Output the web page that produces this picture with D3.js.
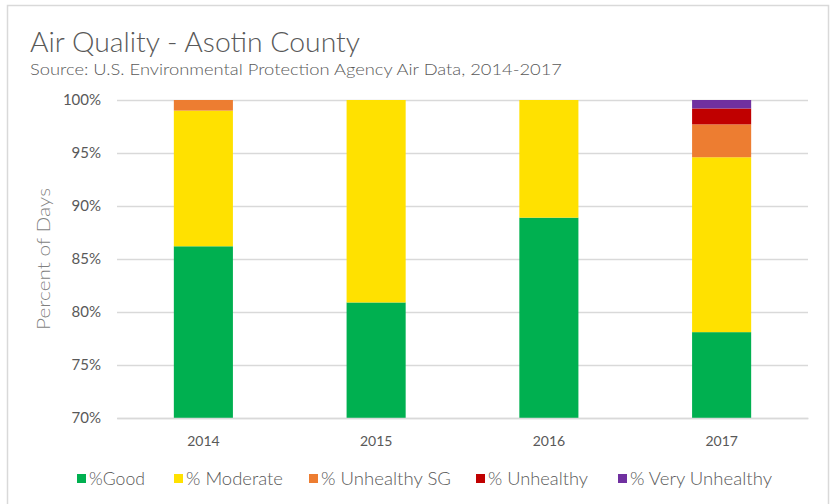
<!DOCTYPE html>
<html><head><meta charset="utf-8">
<script src="https://cdn.jsdelivr.net/npm/d3@7"></script>
<style>body{margin:0;background:#fff;} text{font-family:Lato,"Open Sans",sans-serif;}</style>
</head><body><svg id="c" width="833" height="504"></svg>
<script>
const years = ["2014","2015","2016","2017"];
const seriesNames = ["%Good","% Moderate","% Unhealthy SG","% Unhealthy","% Very Unhealthy"];
const colors = ["#00B050","#FFE100","#ED7D31","#C00000","#7030A0"];
const good = [86.2, 80.9, 88.9, 78.1];
const moderate = [12.8, 19.1, 11.1, 16.5];
const unhealthySG = [1.0, 0, 0, 3.1];
const unhealthy = [0, 0, 0, 1.5];
const veryUnhealthy = [0, 0, 0, 0.8];
const yTicks = [70,75,80,85,90,95,100];

const svg = d3.select("#c");
svg.append("rect").attr("x",7.5).attr("y",5.5).attr("width",821).attr("height",520)
  .attr("fill","#fff").attr("stroke","#d9d9d9").attr("stroke-width",1.5);

svg.append("text").attr("x",30).attr("y",52).attr("font-size",27).attr("fill","#595959")
  .attr("font-weight",300).attr("textLength",330).attr("lengthAdjust","spacingAndGlyphs").text("Air Quality - Asotin County");
svg.append("text").attr("x",30).attr("y",75).attr("font-size",16).attr("fill","#595959")
  .attr("font-weight",300).attr("textLength",532).attr("lengthAdjust","spacingAndGlyphs").text("Source: U.S. Environmental Protection Agency Air Data, 2014-2017");

const pL = 117, pR = 808, pT = 100, pB = 418;
const x = d3.scaleBand().domain(years).range([pL,pR]).paddingInner(0.658).paddingOuter(0.329);
const y = d3.scaleLinear().domain([70,100]).range([pB,pT]);

const gy = svg.append("g").attr("transform",`translate(${pL},0)`)
  .call(d3.axisLeft(y).tickValues(yTicks).tickFormat(d=>d+"%").tickSize(-(pR-pL)).tickPadding(16));
gy.select(".domain").remove();
gy.selectAll(".tick line").attr("stroke","#d9d9d9").attr("stroke-width",1.3);
gy.selectAll(".tick text").attr("font-size",15).attr("fill","#595959").style("font-family","Lato,sans-serif");

const rows = years.map((yr,i)=>({year:yr, s0:good[i], s1:moderate[i], s2:unhealthySG[i], s3:unhealthy[i], s4:veryUnhealthy[i]}));
const stack = d3.stack().keys(["s0","s1","s2","s3","s4"])(rows);
svg.append("defs").append("clipPath").attr("id","clip").append("rect")
  .attr("x",pL).attr("y",pT).attr("width",pR-pL).attr("height",pB-pT);
const gb = svg.append("g").attr("clip-path","url(#clip)");
stack.forEach((layer,k)=>{
  gb.selectAll(null).data(layer).enter().append("rect")
    .attr("x",d=>x(d.data.year)).attr("width",x.bandwidth())
    .attr("y",d=>y(Math.min(d[1],100))).attr("height",d=>Math.max(0,y(d[0])-y(Math.min(d[1],100))))
    .attr("fill",colors[k]);
});

const gx = svg.append("g").attr("transform",`translate(0,${pB})`)
  .call(d3.axisBottom(x).tickSize(0).tickPadding(18));
gx.select(".domain").attr("stroke","#d9d9d9").attr("stroke-width",1.3);
gx.selectAll(".tick text").attr("font-size",14).attr("fill","#595959").style("font-family","Lato,sans-serif");

svg.append("text").attr("transform",`translate(50,${259}) rotate(-90)`)
  .attr("text-anchor","middle").attr("font-size",18).attr("fill","#7f7f7f").attr("font-weight",300)
  .attr("textLength",142).attr("lengthAdjust","spacingAndGlyphs").text("Percent of Days");

const legX = [77,174,309,476,618];
const legW = [56,97,130,100,142];
const lg = svg.append("g");
seriesNames.forEach((n,i)=>{
  lg.append("rect").attr("x",legX[i]).attr("y",474).attr("width",9).attr("height",9).attr("fill",colors[i]);
  lg.append("text").attr("x",legX[i]+12).attr("y",485).attr("font-size",17).attr("fill","#595959")
    .attr("font-weight",300).attr("textLength",legW[i]).attr("lengthAdjust","spacingAndGlyphs").text(n);
});
</script></body></html>
